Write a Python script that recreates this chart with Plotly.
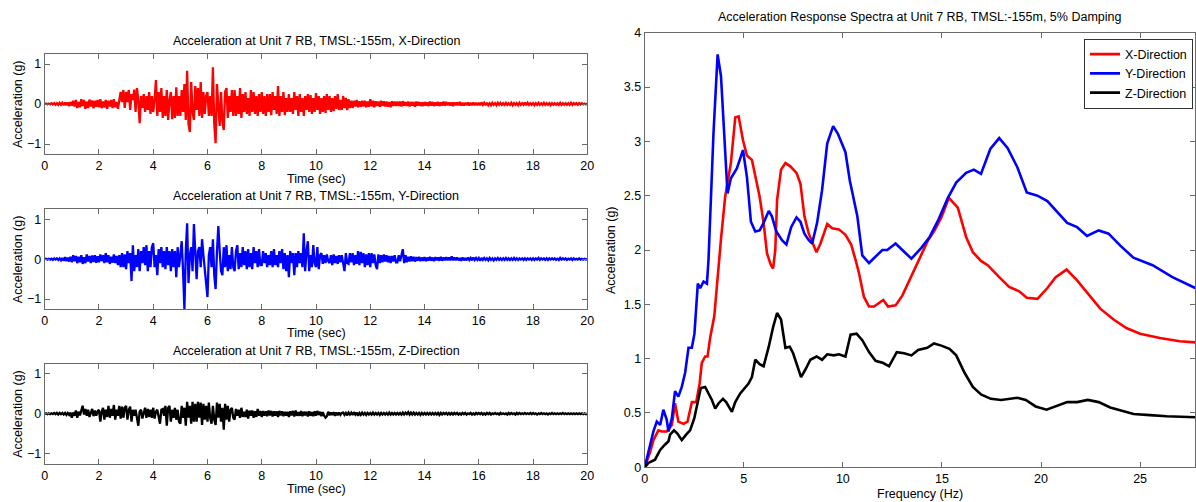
import numpy as np
import plotly.graph_objects as go

# ---- Acceleration time histories (g), sampled every 0.05 s from 0 to 20 s ----
time_sec = np.round(np.arange(0, 20.001, 0.05), 3)

acc_x = [
    0, 0.01, -0.01, 0.01, -0.01, 0.02, -0.01, 0.02, -0.02, 0.02, -0.02, 0.03, -0.02, 0.03, -0.03, 0.04, -0.03, 0.04, -0.05, 0.05,
    -0.04, 0.08, -0.06, 0.1, -0.1, 0.05, -0.08, 0.12, -0.05, 0.1, -0.12, 0.06, -0.1, 0.11, -0.06, 0.09, -0.11, 0.08, -0.07, 0.1,
    -0.08, 0.12, -0.1, 0.06, -0.09, 0.1, -0.12, 0.08, -0.06, 0.1, -0.1, 0.12, -0.08, 0.05, -0.12, 0.14, 0.3, 0.05, 0.35, -0.1,
    0.3, 0.05, 0.35, -0.15, 0.25, 0.1, 0.36, -0.2, 0.4, 0.1, -0.48, 0.2, -0.1, 0.25, -0.2, 0.2, -0.15, 0.3, -0.25, 0.2,
    -0.2, 0.1, 0.6, -0.3, 0.3, -0.2, 0.4, -0.35, 0.2, -0.3, 0.35, -0.4, 0.1, 0.3, -0.38, 0.2, -0.35, 0.42, -0.3, 0.2,
    -0.3, 0.35, -0.2, 0.5, -0.4, 0.83, -0.5, -0.7, 0.55, -0.2, -0.4, 0.45, -0.15, 0.4, -0.3, 0.55, -0.35, 0.3, -0.25, 0.2,
    0.3, -0.3, 0.2, -0.3, 0.92, -0.5, -0.98, 0.5, -0.2, -0.55, 0.3, -0.45, -0.65, 0.3, 0.4, -0.35, 0.2, -0.2, 0.35, -0.3,
    0.35, -0.3, 0.2, -0.25, 0.4, -0.35, 0.25, -0.2, 0.3, -0.25, 0.15, -0.3, 0.35, -0.2, 0.3, -0.25, 0.2, -0.3, 0.25, -0.2,
    0.3, -0.25, 0.2, -0.3, 0.25, -0.2, 0.25, -0.28, 0.3, -0.15, 0.2, -0.25, 0.45, -0.3, 0.2, -0.2, 0.3, -0.28, 0.15, -0.2,
    0.25, -0.2, 0.15, -0.25, 0.3, -0.15, 0.2, -0.3, 0.25, -0.2, 0.15, -0.3, 0.2, -0.15, 0.25, -0.2, 0.22, -0.25, 0.15, -0.2,
    0.27, -0.15, 0.2, -0.25, 0.15, -0.2, 0.2, -0.22, 0.25, -0.15, 0.2, -0.2, 0.15, -0.18, 0.2, -0.12, 0.25, -0.15, 0.1, -0.15,
    0.2, -0.1, 0.15, -0.15, 0.12, -0.1, 0.08, -0.1, 0.08, -0.06, 0.1, -0.08, 0.07, -0.07, 0.08, -0.06, 0.08, -0.08, 0.06, -0.07,
    0.12, -0.06, 0.08, -0.08, 0.07, -0.05, 0.06, -0.07, 0.08, -0.05, 0.07, -0.06, 0.06, -0.07, 0.05, -0.08, 0.07, -0.05, 0.06, -0.05,
    0.06, -0.05, 0.06, -0.06, 0.07, -0.04, 0.05, -0.05, 0.06, -0.06, 0.05, -0.04, 0.05, -0.07, 0.06, -0.04, 0.05, -0.05, 0.04, -0.05,
    0.05, -0.04, 0.04, -0.05, 0.06, -0.04, 0.05, -0.05, 0.04, -0.04, 0.05, -0.05, 0.04, -0.04, 0.06, -0.04, 0.05, -0.03, 0.04, -0.04,
    0.04, -0.05, 0.04, -0.03, 0.04, -0.03, 0.05, -0.04, 0.03, -0.04, 0.03, -0.03, 0.04, -0.04, 0.03, -0.03, 0.04, -0.03, 0.03, -0.03,
    0.03, -0.03, 0.04, -0.02, 0.03, -0.03, 0.03, -0.03, 0.02, -0.03, 0.03, -0.02, 0.02, -0.03, 0.03, -0.02, 0.03, -0.02, 0.02, -0.02,
    0.03, -0.02, 0.02, -0.02, 0.03, -0.03, 0.02, -0.02, 0.02, -0.03, 0.03, -0.02, 0.02, -0.02, 0.04, -0.03, 0.03, -0.02, 0.02, -0.02,
    0.02, -0.03, 0.02, -0.02, 0.03, -0.02, 0.02, -0.02, 0.03, -0.02, 0.02, -0.02, 0.02, -0.03, 0.02, -0.02, 0.02, -0.02, 0.02, -0.02,
    0.03, -0.02, 0.02, -0.02, 0.02, -0.02, 0.02, -0.02, 0.03, -0.02, 0.02, -0.01, 0.02, -0.02, 0.02, -0.01, 0.02, -0.01, 0.01, -0.01,
    0.01,
]

acc_y = [
    0, 0.01, -0.01, 0.01, -0.01, 0.01, -0.02, 0.02, -0.01, 0.02, -0.02, 0.02, -0.03, 0.03, -0.04, 0.05, -0.05, 0.04, -0.06, 0.06,
    -0.08, 0.1, -0.05, 0.08, -0.1, 0.06, -0.08, 0.1, -0.12, 0.05, -0.1, 0.12, -0.06, 0.08, -0.1, 0.09, -0.07, 0.1, -0.09, 0.07,
    -0.08, 0.12, -0.05, 0.1, -0.1, 0.15, -0.08, 0.1, -0.12, 0.06, -0.09, 0.12, -0.1, 0.08, -0.15, 0.1, -0.2, 0.15, -0.2, 0.12,
    -0.25, 0.2, -0.1, 0.15, -0.55, 0.35, -0.3, 0.1, -0.2, 0.25, -0.3, 0.2, -0.1, 0.3, -0.15, 0.35, -0.3, 0.2, -0.2, 0.3,
    0.4, -0.2, 0.1, -0.4, 0.25, -0.1, 0.3, -0.2, 0.2, -0.25, 0.3, -0.15, 0.2, -0.3, 0.25, -0.2, 0.2, -0.45, 0.3, -0.2,
    0.1, 0.45, -0.3, -1.25, 0.2, 0.9, -0.6, 0.1, 0.3, -0.3, 0.88, 0.1, -0.5, 0.2, 0.3, -0.2, 0.5, 0.1, -0.3, -0.5,
    -0.95, 0.1, 0.3, -0.2, 0.5, -0.4, -0.75, 0.2, 0.83, 0.2, -0.3, -0.4, 0.3, -0.2, 0.35, -0.3, 0.1, -0.25, 0.3, -0.2,
    -0.3, 0.2, 0.35, -0.25, 0.15, -0.2, 0.3, -0.15, 0.2, -0.25, 0.25, -0.2, 0.15, -0.25, 0.3, -0.1, 0.2, -0.2, 0.25, -0.15,
    -0.15, 0.2, -0.1, 0.15, -0.2, 0.1, -0.15, 0.2, -0.2, 0.25, -0.15, 0.1, -0.2, 0.2, -0.1, 0.25, -0.25, 0.15, -0.3, 0.1,
    -0.45, 0.2, -0.1, 0.15, -0.4, 0.15, -0.2, 0.2, -0.1, 0.15, -0.2, 0.65, -0.3, 0.2, 0.45, -0.3, 0.1, -0.2, 0.35, -0.1,
    -0.2, 0.3, -0.25, 0.1, 0.15, -0.12, 0.1, -0.1, 0.12, -0.05, -0.1, 0.1, -0.15, 0.12, -0.1, 0.08, -0.12, 0.1, -0.08, 0.1,
    -0.1, -0.3, 0.15, -0.1, -0.12, 0.15, -0.08, 0.15, -0.15, 0.1, -0.12, 0.2, -0.15, 0.18, -0.1, 0.15, -0.2, 0.12, -0.15, 0.15,
    -0.2, 0.15, -0.1, 0.12, -0.15, -0.25, 0.12, -0.1, 0.1, -0.08, 0.12, -0.06, 0.1, -0.08, 0.08, -0.1, 0.08, -0.06, 0.1, -0.08,
    -0.08, 0.1, -0.05, 0.1, 0.25, -0.1, 0.1, -0.08, 0.06, -0.06, 0.07, -0.05, 0.06, -0.06, 0.05, -0.04, 0.06, -0.05, 0.04, -0.04,
    0.05, -0.05, 0.04, -0.04, 0.06, -0.04, 0.04, -0.05, 0.05, -0.03, 0.04, -0.04, 0.06, -0.04, 0.04, -0.03, 0.05, -0.03, 0.04, -0.03,
    0.07, -0.03, 0.04, -0.03, 0.04, -0.03, 0.03, -0.04, 0.04, -0.03, 0.03, -0.03, 0.04, -0.02, 0.03, -0.03, 0.04, -0.02, 0.03, -0.02,
    0.03, -0.04, 0.03, -0.02, 0.03, -0.02, 0.02, -0.03, 0.03, -0.02, 0.02, -0.03, 0.02, -0.02, 0.03, -0.02, 0.02, -0.02, 0.02, -0.02,
    0.03, -0.02, 0.02, -0.02, 0.02, -0.02, 0.03, -0.02, 0.02, -0.02, 0.02, -0.01, 0.02, -0.02, 0.02, -0.02, 0.02, -0.01, 0.02, -0.02,
    0.02, -0.02, 0.02, -0.01, 0.03, -0.02, 0.02, -0.01, 0.02, -0.02, 0.02, -0.02, 0.02, -0.01, 0.02, -0.01, 0.02, -0.02, 0.01, -0.02,
    0.03, -0.01, 0.02, -0.01, 0.02, -0.02, 0.01, -0.01, 0.02, -0.02, 0.02, -0.01, 0.01, -0.01, 0.02, -0.01, 0.01, -0.01, 0.01, -0.01,
    0.0,
]

acc_z = [
    0, 0.01, -0.01, 0.01, -0.01, 0.01, -0.01, 0.02, -0.01, 0.02, -0.02, 0.02, -0.01, 0.02, -0.02, 0.02, -0.03, 0.02, -0.03, 0.03,
    -0.1, 0.03, -0.05, 0.08, -0.1, 0.05, -0.04, 0.1, 0.2, -0.02, 0.12, -0.05, 0.1, -0.08, 0.05, 0.12, -0.06, 0.08, -0.05, 0.06,
    0.1, -0.2, 0.05, 0.15, -0.15, 0.1, -0.08, 0.2, -0.1, 0.12, -0.05, 0.22, -0.15, 0.1, -0.05, 0.2, -0.12, 0.18, -0.1, 0.15,
    0.2, -0.15, 0.1, 0.18, -0.2, 0.1, -0.05, 0.1, -0.1, -0.3, 0.05, 0.1, -0.12, 0.05, 0.15, -0.1, 0.12, -0.08, 0.1, -0.1,
    0.15, -0.12, 0.05, 0.1, -0.1, -0.25, 0.1, 0.12, -0.05, 0.2, -0.3, 0.15, 0.2, -0.2, 0.1, -0.1, 0.15, -0.15, 0.1, -0.2,
    -0.25, 0.2, -0.1, 0.15, -0.3, 0.3, -0.1, 0.2, -0.25, 0.3, -0.2, 0.25, -0.2, 0.3, -0.1, 0.28, -0.28, 0.25, -0.15, 0.2,
    -0.2, 0.28, -0.1, -0.25, 0.2, -0.15, -0.28, 0.28, -0.1, 0.25, -0.2, 0.15, -0.4, 0.25, -0.15, 0.2, -0.2, 0.1, 0.15, -0.1,
    -0.15, 0.12, -0.05, 0.1, -0.1, 0.15, -0.08, 0.05, -0.08, 0.1, -0.12, 0.08, -0.05, 0.08, -0.1, 0.06, -0.08, 0.12, -0.05, 0.07,
    -0.08, 0.07, -0.05, 0.06, -0.06, 0.08, -0.04, 0.07, -0.07, 0.06, -0.05, 0.06, -0.08, 0.07, -0.04, 0.06, -0.06, 0.05, -0.05, 0.05,
    -0.08, 0.06, -0.04, 0.07, -0.07, 0.08, -0.05, 0.04, -0.05, 0.07, -0.06, 0.05, -0.04, 0.05, -0.07, 0.06, -0.05, 0.04, -0.06, 0.06,
    -0.05, 0.07, -0.03, 0.05, -0.06, 0.04, -0.05, -0.1, -0.06, 0.05, -0.04, 0.03, -0.03, 0.04, -0.05, 0.03, -0.04, 0.03, -0.03, 0.02,
    0.03, -0.03, 0.02, -0.04, 0.03, -0.02, 0.03, -0.03, 0.04, -0.02, 0.03, -0.05, 0.02, -0.03, 0.03, -0.02, 0.02, -0.03, 0.02, -0.02,
    0.02, -0.02, 0.03, -0.02, 0.02, -0.02, 0.02, -0.03, 0.02, -0.02, 0.02, -0.02, 0.02, -0.02, 0.03, -0.02, 0.02, -0.02, 0.02, -0.02,
    0.02, -0.02, 0.02, -0.02, 0.03, -0.02, 0.03, -0.01, 0.04, -0.02, 0.03, -0.02, 0.03, -0.02, 0.02, -0.02, 0.02, -0.03, 0.02, -0.02,
    0.02, -0.02, 0.02, -0.02, 0.02, -0.02, 0.02, -0.02, 0.02, -0.02, 0.02, -0.03, 0.02, -0.02, 0.02, -0.01, 0.02, -0.02, 0.02, -0.02,
    0.02, -0.02, 0.02, -0.01, 0.02, -0.02, 0.01, -0.02, 0.02, -0.01, 0.02, -0.02, 0.01, -0.01, 0.02, -0.02, 0.01, -0.02, 0.02, -0.01,
    0.02, -0.01, 0.02, -0.02, 0.01, -0.02, 0.02, -0.01, 0.02, -0.02, 0.01, -0.01, 0.02, -0.01, 0.01, -0.02, 0.02, -0.01, 0.01, -0.01,
    0.01, -0.02, 0.02, -0.01, 0.02, -0.01, 0.01, -0.02, 0.02, -0.01, 0.02, -0.01, 0.01, -0.01, 0.02, -0.01, 0.01, -0.01, 0.02, -0.01,
    0.02, -0.01, 0.01, -0.02, 0.01, -0.01, 0.02, -0.01, 0.01, -0.01, 0.01, -0.02, 0.01, -0.01, 0.02, -0.01, 0.01, -0.01, 0.01, -0.01,
    0.01, -0.01, 0.02, -0.01, 0.01, -0.01, 0.01, -0.01, 0.01, -0.01, 0.01, -0.01, 0.01, -0.01, 0.01, -0.01, 0.01, -0.01, 0.01, -0.01,
    0.0,
]

# ---- Acceleration response spectra (5% damping) ----
freq_x = [0, 0.27, 0.44, 0.69, 0.86, 1.11, 1.37, 1.53, 1.70, 1.96, 2.16, 2.38, 2.60,
          2.77, 2.88, 3.05, 3.17, 3.31, 3.51, 3.64, 3.85, 4.06, 4.35, 4.57, 4.74, 4.96,
          5.16, 5.41, 5.58, 5.80, 6.0, 6.17, 6.37, 6.48, 6.59, 6.68, 6.88, 7.1, 7.35,
          7.66, 7.86, 8.06, 8.28, 8.67, 8.87, 9.21, 9.46, 9.80, 10.13, 10.42, 10.64,
          10.81, 11.06, 11.32, 11.57, 11.82, 12.04, 12.28, 12.66, 13.0, 13.46, 13.96,
          14.30, 14.63, 14.97, 15.35, 15.80, 16.22, 16.56, 16.97, 17.31, 17.89, 18.39,
          18.90, 19.28, 19.82, 20.32, 20.74, 21.29, 21.82, 22.41, 22.99, 23.66, 24.33,
          25.0, 26.0, 27.0, 27.78]
sa_x = [0, 0.14, 0.25, 0.34, 0.33, 0.33, 0.39, 0.59, 0.42, 0.40, 0.42, 0.60, 0.60,
        0.77, 0.96, 1.02, 1.02, 1.20, 1.39, 1.69, 2.10, 2.49, 2.80, 3.22, 3.23, 3.01,
        2.87, 2.83, 2.67, 2.49, 2.25, 1.97, 1.86, 1.83, 2.0, 2.46, 2.74, 2.80, 2.77,
        2.71, 2.61, 2.31, 2.15, 1.98, 2.06, 2.24, 2.20, 2.19, 2.14, 2.05, 1.91,
        1.79, 1.57, 1.48, 1.48, 1.51, 1.54, 1.48, 1.49, 1.58, 1.76, 1.96,
        2.09, 2.18, 2.30, 2.48, 2.39, 2.12, 1.98, 1.90, 1.86, 1.75, 1.66,
        1.62, 1.56, 1.55, 1.65, 1.75, 1.82, 1.72, 1.59, 1.46, 1.36, 1.28,
        1.23, 1.19, 1.16, 1.15]

freq_y = [0, 0.27, 0.44, 0.61, 0.78, 0.94, 1.11, 1.20, 1.37, 1.53, 1.70, 1.87, 2.04,
          2.21, 2.38, 2.51, 2.68, 2.80, 2.97, 3.14, 3.22, 3.47, 3.68, 3.85, 4.01, 4.18,
          4.35, 4.65, 4.96, 5.16, 5.36, 5.58, 5.80, 6.0, 6.26, 6.42, 6.64, 6.93, 7.15,
          7.39, 7.66, 7.86, 8.06, 8.28, 8.45, 8.70, 8.95, 9.21, 9.51, 9.75, 10.13,
          10.35, 10.73, 10.98, 11.32, 11.65, 11.99, 12.24, 12.66, 13.0, 13.46, 13.96,
          14.38, 14.80, 15.30, 15.72, 16.22, 16.61, 16.97, 17.44, 17.89, 18.31, 18.81,
          19.28, 19.82, 20.32, 20.82, 21.32, 21.82, 22.32, 22.91, 23.41, 24.0, 24.66,
          25.63, 26.63, 27.78]
sa_y = [0, 0.20, 0.33, 0.42, 0.39, 0.53, 0.44, 0.33, 0.45, 0.70, 0.65, 0.74, 0.87,
        1.10, 1.10, 1.23, 1.69, 1.65, 1.71, 1.69, 1.91, 3.07, 3.80, 3.60, 3.07, 2.52,
        2.66, 2.75, 2.92, 2.67, 2.26, 2.17, 2.18, 2.25, 2.36, 2.31, 2.17, 2.09, 2.05,
        2.21, 2.30, 2.26, 2.15, 2.09, 2.06, 2.25, 2.55, 2.98, 3.14, 3.07, 2.90,
        2.64, 2.31, 1.95, 1.88, 1.94, 2.0, 2.0, 2.06, 2.0, 1.92, 2.02,
        2.12, 2.27, 2.48, 2.62, 2.71, 2.74, 2.70, 2.93, 3.03, 2.94, 2.76,
        2.53, 2.50, 2.45, 2.35, 2.25, 2.21, 2.13, 2.18, 2.15, 2.04, 1.93,
        1.86, 1.75, 1.65]

freq_z = [0, 0.19, 0.52, 0.78, 1.03, 1.20, 1.28, 1.48, 1.65, 1.87, 2.09, 2.29, 2.50,
          2.66, 2.83, 3.05, 3.22, 3.39, 3.56, 3.73, 3.95, 4.11, 4.40, 4.57, 4.82, 5.08,
          5.24, 5.41, 5.58, 5.80, 6.0, 6.26, 6.48, 6.68, 6.88, 7.1, 7.32, 7.49, 7.69,
          7.89, 8.11, 8.36, 8.67, 8.95, 9.21, 9.54, 9.80, 10.13, 10.39, 10.69, 10.98,
          11.32, 11.65, 12.04, 12.33, 12.72, 13.09, 13.46, 13.80, 14.26, 14.60, 14.97,
          15.38, 15.72, 16.14, 16.56, 16.97, 17.47, 17.98, 18.39, 18.81, 19.23, 19.73,
          20.28, 20.82, 21.32, 21.82, 22.36, 22.91, 23.49, 24.08, 24.67, 25.50, 26.34,
          27.78]
sa_z = [0, 0.04, 0.07, 0.16, 0.21, 0.24, 0.30, 0.34, 0.31, 0.25, 0.30, 0.34, 0.45,
        0.59, 0.73, 0.74, 0.68, 0.62, 0.54, 0.59, 0.63, 0.60, 0.51, 0.60, 0.68, 0.74,
        0.77, 0.83, 0.99, 0.95, 0.93, 1.11, 1.29, 1.42, 1.36, 1.10, 1.11, 1.05, 0.93,
        0.83, 0.90, 0.99, 1.02, 0.99, 1.04, 1.03, 1.04, 1.02, 1.22, 1.23, 1.17,
        1.06, 0.98, 0.96, 0.93, 1.06, 1.05, 1.03, 1.08, 1.10, 1.14, 1.12,
        1.09, 1.03, 0.87, 0.74, 0.67, 0.63, 0.62, 0.63, 0.64, 0.62, 0.56,
        0.53, 0.57, 0.60, 0.60, 0.62, 0.60, 0.55, 0.52, 0.49, 0.48, 0.47,
        0.46]

FONT = "Liberation Sans, Arial, sans-serif"
AXIS_COLOR = "#6a6a6a"
LEGEND_EDGE = "#333333"
W, H = 1196, 502

panel_titles = [
    "Acceleration at Unit 7 RB, TMSL:-155m, X-Direction",
    "Acceleration at Unit 7 RB, TMSL:-155m, Y-Direction",
    "Acceleration at Unit 7 RB, TMSL:-155m, Z-Direction",
]
series_names = ["X-Direction", "Y-Direction", "Z-Direction"]
colors = ["#ff0000", "#0000ff", "#000000"]

fig = go.Figure()

# pixel boxes: (left, right, top, bottom)
left_x = (44.7, 587.3)
panel_y = [(54, 154), (209.3, 309), (364, 463.5)]
spec_box = (644.7, 1195.2, 32.7, 467.3)


def px_dom(a, b):
    return [a / W, b / W]


def py_dom(top, bottom):
    return [(H - bottom) / H, (H - top) / H]


def axis_style(**kw):
    d = dict(
        showline=True, linecolor=AXIS_COLOR, linewidth=1, mirror="ticks",
        ticks="inside", ticklen=5, tickcolor=AXIS_COLOR, tickwidth=1,
        showgrid=False, zeroline=False, automargin=False,
        tickfont=dict(family=FONT, size=12.5, color="#000000"),
    )
    d.update(kw)
    return d


layout_axes = {}
for i, (vals, col) in enumerate(zip([acc_x, acc_y, acc_z], colors)):
    n = i + 1
    xa = "x" if n == 1 else f"x{n}"
    ya = "y" if n == 1 else f"y{n}"
    fig.add_trace(go.Scatter(x=time_sec, y=vals, mode="lines",
                             line=dict(color=col, width=2.3),
                             xaxis=xa, yaxis=ya, showlegend=False,
                             hoverinfo="skip"))
    top, bottom = panel_y[i]
    layout_axes["xaxis" if n == 1 else f"xaxis{n}"] = axis_style(
        domain=px_dom(*left_x), range=[0, 20], tickvals=list(range(0, 21, 2)),
        anchor=ya)
    layout_axes["yaxis" if n == 1 else f"yaxis{n}"] = axis_style(
        domain=py_dom(top, bottom), range=[-1.25, 1.25], tickvals=[-1, 0, 1],
        anchor=xa)

# response spectra
for f, s, name, col in zip([freq_x, freq_y, freq_z], [sa_x, sa_y, sa_z],
                           series_names, colors):
    fig.add_trace(go.Scatter(x=f, y=s, mode="lines", name=name,
                             line=dict(color=col, width=2.6),
                             xaxis="x4", yaxis="y4"))

layout_axes["xaxis4"] = axis_style(
    domain=px_dom(spec_box[0], spec_box[1]), range=[0, 27.78],
    tickvals=[0, 5, 10, 15, 20, 25], anchor="y4")
layout_axes["yaxis4"] = axis_style(
    domain=py_dom(spec_box[2], spec_box[3]), range=[0, 4],
    tickvals=[0, 0.5, 1, 1.5, 2, 2.5, 3, 3.5, 4],
    ticktext=["0", "0.5", "1", "1.5", "2", "2.5", "3", "3.5", "4"], anchor="x4")

annotations = []


def text(x, y, s, size=12.5, angle=0):
    annotations.append(dict(
        x=x / W, y=(H - y) / H, xref="paper", yref="paper", text=s,
        showarrow=False, xanchor="center", yanchor="middle", textangle=angle,
        font=dict(family=FONT, size=size, color="#000000")))


cx_left = (left_x[0] + left_x[1]) / 2
title_y = [41, 196, 351]
xlabel_y = [179, 333, 489]
for i in range(3):
    text(cx_left, title_y[i], panel_titles[i])
    text(cx_left, xlabel_y[i], "Time (sec)")
    top, bottom = panel_y[i]
    text(18, (top + bottom) / 2, "Acceleration (g)", angle=-90)

cx_spec = (spec_box[0] + spec_box[1]) / 2
text(cx_spec, 17, "Acceleration Response Spectra at Unit 7 RB, TMSL:-155m, 5% Damping")
text(cx_spec, 494, "Frequency (Hz)")
text(611, (spec_box[2] + spec_box[3]) / 2, "Acceleration (g)", angle=-90)

fig.update_layout(
    template="none",
    width=W, height=H, margin=dict(l=0, r=0, t=0, b=0, pad=0), autosize=False,
    paper_bgcolor="#ffffff", plot_bgcolor="#ffffff",
    annotations=annotations,
    legend=dict(x=1193 / W, y=(H - 38.5) / H, xanchor="right", yanchor="top",
                bgcolor="#ffffff", bordercolor=LEGEND_EDGE, borderwidth=1,
                font=dict(family=FONT, size=12.5, color="#000000"),
                tracegroupgap=0, itemwidth=30),
    **layout_axes,
)

# page without body margin so the figure fills the window exactly
fig.write_html("out.html",
               post_script="document.body.style.margin='0';"
                           "document.body.style.overflow='hidden';")
